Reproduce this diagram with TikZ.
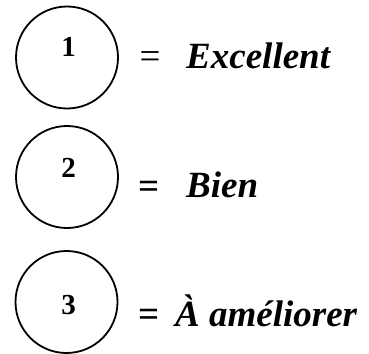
\documentclass[tikz,border=0pt]{standalone}
\usepackage{fontspec}
\setmainfont{Liberation Serif}
\begin{document}
\begin{tikzpicture}[x=1pt,y=-1pt,
  ring/.style={circle,draw,line width=1.8pt,minimum size=102pt,inner sep=0pt},
  num/.style={font=\fontsize{29}{32}\selectfont\bfseries,inner sep=0pt},
  eqsign/.style={font=\fontsize{37}{40}\selectfont,inner sep=0pt},
  label/.style={font=\fontsize{37}{40}\selectfont\bfseries\itshape,inner sep=0pt,anchor=base west}]
\useasboundingbox (0,0) rectangle (369,353);
\node[ring] (c1) at (67,57.5) {};
\node[ring] (c2) at (67,177) {};
\node[ring] (c3) at (66.5,302) {};
\node[num] (n1) at (68.5,47) {1};
\node[num] (n2) at (68.5,167.5) {2};
\node[num] (n3) at (68.5,305) {3};
\node[eqsign] (e1) at (150,60) {=};
\node[eqsign,font=\fontsize{37}{40}\selectfont\bfseries] (e2) at (149,190) {=};
\node[eqsign,font=\fontsize{37}{40}\selectfont\bfseries] (e3) at (149,318) {=};
\node[label] (t1) at (186,68) {Excellent};
\node[label] (t2) at (186,197) {Bien};
\node[label] (t3) at (175,326) {À améliorer};
\end{tikzpicture}
\end{document}
